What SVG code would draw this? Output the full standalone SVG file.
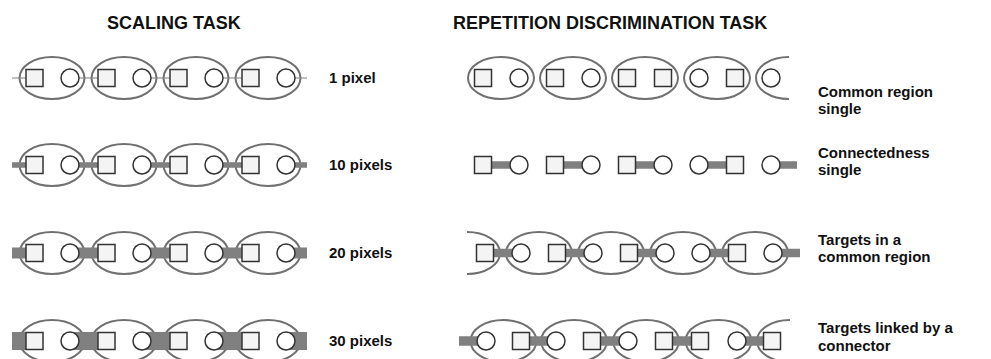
<svg xmlns="http://www.w3.org/2000/svg" width="991" height="359" viewBox="0 0 991 359">
<style>
.el{fill:none;stroke:#707070;stroke-width:2}
.sq{fill:#f4f4f4;stroke:#333;stroke-width:1.5}
.ci{fill:#fff;stroke:#333;stroke-width:1.5}
.bar{stroke:#808080;fill:none}
.h{font-family:"Liberation Sans",Arial,sans-serif;font-weight:bold;font-size:18px;fill:#111}
.t{font-family:"Liberation Sans",Arial,sans-serif;font-weight:bold;font-size:15px;fill:#111}
</style>
<defs>
<clipPath id="cR1"><rect x="0" y="0" width="789" height="359"/></clipPath>
<clipPath id="cR3"><rect x="467" y="0" width="524" height="359"/></clipPath>
<clipPath id="cR4"><rect x="0" y="0" width="790" height="359"/></clipPath>
</defs>
<rect width="991" height="359" fill="#fff"/>
<text class="h" x="107" y="29">SCALING TASK</text>
<text class="h" x="453" y="29">REPETITION DISCRIMINATION TASK</text>

<g id="regions">
<!-- left rows -->
<g id="L1-regions"><ellipse class="el" cx="52" cy="78" rx="32.5" ry="21"/><ellipse class="el" cx="124" cy="78" rx="32.5" ry="21"/><ellipse class="el" cx="196" cy="78" rx="32.5" ry="21"/><ellipse class="el" cx="268" cy="78" rx="32.5" ry="21"/></g>
<g id="L2-regions"><ellipse class="el" cx="52" cy="165" rx="32.5" ry="21"/><ellipse class="el" cx="124" cy="165" rx="32.5" ry="21"/><ellipse class="el" cx="196" cy="165" rx="32.5" ry="21"/><ellipse class="el" cx="268" cy="165" rx="32.5" ry="21"/></g>
<g id="L3-regions"><ellipse class="el" cx="52" cy="253" rx="32.5" ry="21"/><ellipse class="el" cx="124" cy="253" rx="32.5" ry="21"/><ellipse class="el" cx="196" cy="253" rx="32.5" ry="21"/><ellipse class="el" cx="268" cy="253" rx="32.5" ry="21"/></g>
<g id="L4-regions"><ellipse class="el" cx="52" cy="341" rx="32.5" ry="21"/><ellipse class="el" cx="124" cy="341" rx="32.5" ry="21"/><ellipse class="el" cx="196" cy="341" rx="32.5" ry="21"/><ellipse class="el" cx="268" cy="341" rx="32.5" ry="21"/></g>
<!-- right rows -->
<g id="R1-regions"><ellipse class="el" cx="501" cy="78" rx="33" ry="21"/><ellipse class="el" cx="573" cy="78" rx="33" ry="21"/><ellipse class="el" cx="645" cy="78" rx="33" ry="21"/><ellipse class="el" cx="717" cy="78" rx="33" ry="21"/><ellipse class="el" cx="789" cy="78" rx="33" ry="21" clip-path="url(#cR1)"/></g>
<g id="R3-regions"><ellipse class="el" cx="467" cy="253" rx="33" ry="21" clip-path="url(#cR3)"/><ellipse class="el" cx="539" cy="253" rx="33" ry="21"/><ellipse class="el" cx="611" cy="253" rx="33" ry="21"/><ellipse class="el" cx="683" cy="253" rx="33" ry="21"/><ellipse class="el" cx="755" cy="253" rx="33" ry="21"/></g>
<g id="R4-regions"><ellipse class="el" cx="503.5" cy="341" rx="33" ry="21"/><ellipse class="el" cx="574" cy="341" rx="33" ry="21"/><ellipse class="el" cx="646" cy="341" rx="33" ry="21"/><ellipse class="el" cx="718.5" cy="341" rx="33" ry="21"/><ellipse class="el" cx="790" cy="341" rx="33" ry="21" clip-path="url(#cR4)"/></g>
</g>

<g id="connectors">
<g class="bar" stroke-width="1"><path d="M12 78H34M70 78H106M142 78H178M214 78H250M286 78H307"/></g>
<g class="bar" stroke-width="5.5"><path d="M12 165H34M70 165H106M142 165H178M214 165H250M286 165H307"/></g>
<g class="bar" stroke-width="11"><path d="M12 253H34M70 253H106M142 253H178M214 253H250M286 253H307"/></g>
<g class="bar" stroke-width="18"><path d="M12 341H34M70 341H106M142 341H178M214 341H250M286 341H307"/></g>
<g class="bar" stroke-width="7.5"><path d="M483 165H519M555 165H591M627 165H663M699 165H735M771 165H797"/></g>
<g class="bar" stroke-width="8.5"><path d="M485 253H521M557 253H593M629 253H665M701 253H737M773 253H800"/></g>
<g class="bar" stroke-width="9.5"><path d="M459 341H486M521 341H556M592 341H628M664 341H700M737 341H772"/></g>
</g>

<g id="L1-items"><rect class="sq" x="26" y="69.5" width="17" height="17"/><circle class="ci" cx="70" cy="78" r="9"/><rect class="sq" x="98" y="69.5" width="17" height="17"/><circle class="ci" cx="142" cy="78" r="9"/><rect class="sq" x="170" y="69.5" width="17" height="17"/><circle class="ci" cx="214" cy="78" r="9"/><rect class="sq" x="242" y="69.5" width="17" height="17"/><circle class="ci" cx="286" cy="78" r="9"/></g>
<g id="L2-items"><rect class="sq" x="26" y="156.5" width="17" height="17"/><circle class="ci" cx="70" cy="165" r="9"/><rect class="sq" x="98" y="156.5" width="17" height="17"/><circle class="ci" cx="142" cy="165" r="9"/><rect class="sq" x="170" y="156.5" width="17" height="17"/><circle class="ci" cx="214" cy="165" r="9"/><rect class="sq" x="242" y="156.5" width="17" height="17"/><circle class="ci" cx="286" cy="165" r="9"/></g>
<g id="L3-items"><rect class="sq" x="26" y="244.5" width="17" height="17"/><circle class="ci" cx="70" cy="253" r="9"/><rect class="sq" x="98" y="244.5" width="17" height="17"/><circle class="ci" cx="142" cy="253" r="9"/><rect class="sq" x="170" y="244.5" width="17" height="17"/><circle class="ci" cx="214" cy="253" r="9"/><rect class="sq" x="242" y="244.5" width="17" height="17"/><circle class="ci" cx="286" cy="253" r="9"/></g>
<g id="L4-items"><rect class="sq" x="26" y="332.5" width="17" height="17"/><circle class="ci" cx="70" cy="341" r="9"/><rect class="sq" x="98" y="332.5" width="17" height="17"/><circle class="ci" cx="142" cy="341" r="9"/><rect class="sq" x="170" y="332.5" width="17" height="17"/><circle class="ci" cx="214" cy="341" r="9"/><rect class="sq" x="242" y="332.5" width="17" height="17"/><circle class="ci" cx="286" cy="341" r="9"/></g>

<g id="R1-items"><rect class="sq" x="474.5" y="69.5" width="17" height="17"/><circle class="ci" cx="519" cy="78" r="9"/><rect class="sq" x="546.5" y="69.5" width="17" height="17"/><circle class="ci" cx="591" cy="78" r="9"/><rect class="sq" x="618.5" y="69.5" width="17" height="17"/><rect class="sq" x="654.5" y="69.5" width="17" height="17"/><circle class="ci" cx="699" cy="78" r="9"/><rect class="sq" x="726.5" y="69.5" width="17" height="17"/><circle class="ci" cx="771" cy="78" r="9"/></g>
<g id="R2-items"><rect class="sq" x="474.5" y="156.5" width="17" height="17"/><circle class="ci" cx="519" cy="165" r="9"/><rect class="sq" x="546.5" y="156.5" width="17" height="17"/><circle class="ci" cx="591" cy="165" r="9"/><rect class="sq" x="618.5" y="156.5" width="17" height="17"/><circle class="ci" cx="663" cy="165" r="9"/><circle class="ci" cx="699" cy="165" r="9"/><rect class="sq" x="726.5" y="156.5" width="17" height="17"/><circle class="ci" cx="771" cy="165" r="9"/></g>
<g id="R3-items"><rect class="sq" x="476.5" y="244.5" width="17" height="17"/><circle class="ci" cx="521" cy="253" r="9"/><rect class="sq" x="548.5" y="244.5" width="17" height="17"/><circle class="ci" cx="593" cy="253" r="9"/><rect class="sq" x="620.5" y="244.5" width="17" height="17"/><circle class="ci" cx="665" cy="253" r="9"/><circle class="ci" cx="701" cy="253" r="9"/><rect class="sq" x="728.5" y="244.5" width="17" height="17"/><circle class="ci" cx="773" cy="253" r="9"/></g>
<g id="R4-items"><circle class="ci" cx="486" cy="341" r="9"/><rect class="sq" x="512.5" y="332.5" width="17" height="17"/><circle class="ci" cx="556" cy="341" r="9"/><rect class="sq" x="583.5" y="332.5" width="17" height="17"/><circle class="ci" cx="628" cy="341" r="9"/><rect class="sq" x="655.5" y="332.5" width="17" height="17"/><rect class="sq" x="691.5" y="332.5" width="17" height="17"/><circle class="ci" cx="737" cy="341" r="9"/><rect class="sq" x="763.5" y="332.5" width="17" height="17"/></g>

<g id="labels">
<text class="t" x="329" y="83">1 pixel</text>
<text class="t" x="329" y="170">10 pixels</text>
<text class="t" x="329" y="258">20 pixels</text>
<text class="t" x="329" y="346">30 pixels</text>
<text class="t" x="818" y="97">Common region</text>
<text class="t" x="818" y="114">single</text>
<text class="t" x="818" y="158">Connectedness</text>
<text class="t" x="818" y="175">single</text>
<text class="t" x="818" y="245">Targets in a</text>
<text class="t" x="818" y="262">common region</text>
<text class="t" x="818" y="333">Targets linked by a</text>
<text class="t" x="818" y="351">connector</text>
</g>
</svg>
